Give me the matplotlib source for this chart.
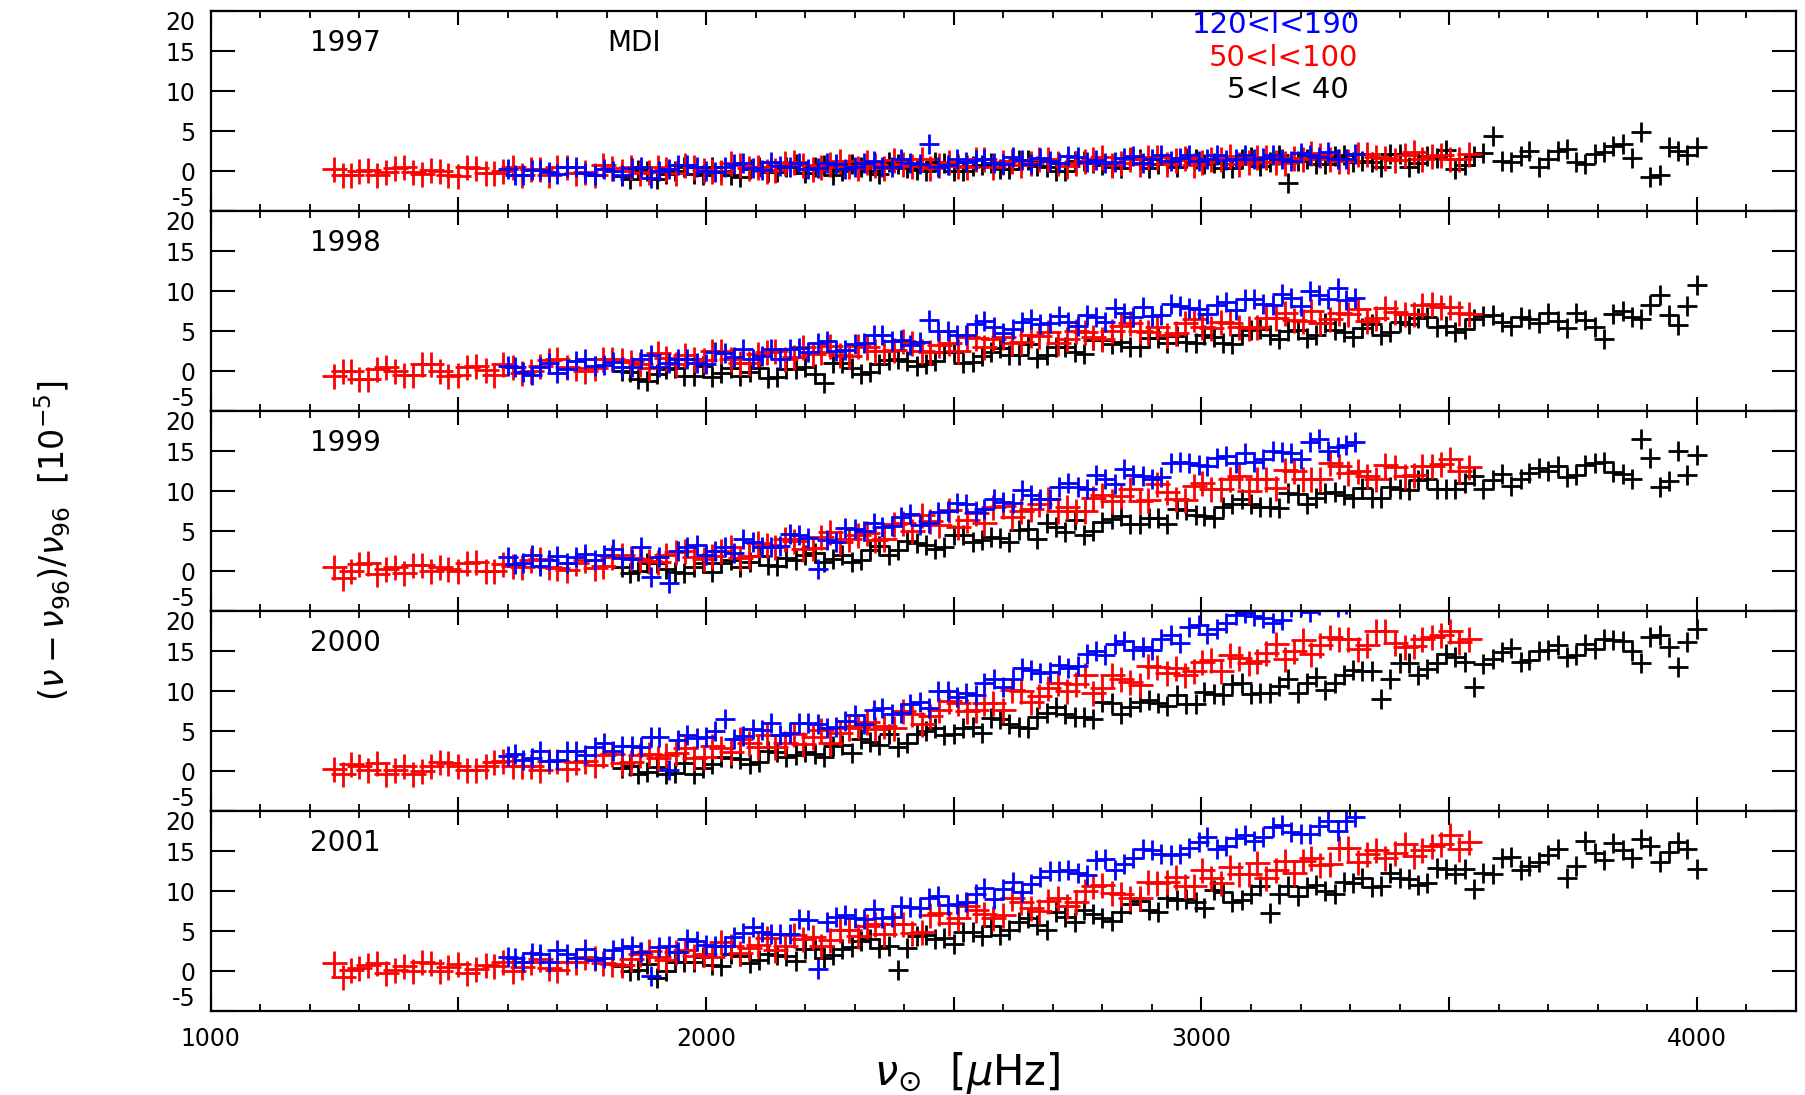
import matplotlib
matplotlib.use('Agg')
import matplotlib.pyplot as plt
from matplotlib.ticker import MultipleLocator, FuncFormatter

plt.rcParams['font.family'] = ['DejaVu Sans']
plt.rcParams['axes.unicode_minus'] = False

years = [1997, 1998, 1999, 2000, 2001]
range_labels = ['120<l<190', '50<l<100', '5<l< 40']

# ---- 50<l<100 (red) ----
nu_red = [1250, 1268, 1300, 1335, 1372, 1408, 1445, 1480, 1518, 1555,
          1590, 1628, 1665, 1700, 1738, 1775, 1810, 1848, 1885, 1920,
          1958, 1995, 2030, 2068, 2105, 2140, 2178, 2215, 2250, 2288,
          2325, 2360, 2398, 2435, 2470, 2508, 2545, 2580, 2618, 2655,
          2690, 2728, 2765, 2800, 2838, 2875, 2910, 2948, 2985, 3020,
          3058, 3095, 3130, 3168, 3205, 3240, 3278, 3315, 3352, 3390,
          3428, 3465, 3502, 3540]
red_1997 = [0.3, -0.5, 0.1, -0.4, 0.4, -0.1, 0.2, -0.4, 0.5, -0.2,
            0.1, -0.5, 0.3, 0.6, -0.2, -0.5, 0.4, 0.6, -0.1, 0.3,
            0.8, 0.2, -0.1, 0.8, 0.6, 0.2, 1.2, 0.3, 0.9, 0.7,
            1.2, 0.4, 0.9, 1.5, 0.8, 0.7, 1.6, 0.6, 1.3, 1.0,
            1.5, 0.7, 1.3, 1.8, 1.0, 0.9, 1.8, 1.4, 0.8, 1.6,
            1.9, 1.2, 1.8, 1.1, 1.6, 2.0, 1.3, 2.2, 1.8, 1.4,
            2.4, 1.9, 1.6, 2.2]
red_1998 = [-0.6, 0.1, -1.0, 0.3, 0.1, -0.5, 0.9, -0.6, 0.5, 0.2,
            0.9, -0.2, 0.7, 1.5, 0.4, 0.4, 1.6, 1.2, 0.4, 1.7,
            2.0, 1.4, 2.5, 1.1, 2.2, 2.6, 1.8, 2.2, 3.2, 1.9,
            3.0, 2.6, 3.8, 2.5, 3.3, 2.5, 4.2, 4.0, 3.6, 4.6,
            4.9, 4.1, 4.9, 4.1, 5.7, 5.1, 5.6, 4.8, 6.5, 5.4,
            6.0, 5.4, 6.7, 7.3, 6.3, 6.0, 7.3, 7.8, 6.7, 7.4,
            7.2, 8.4, 8.0, 7.2]
red_1999 = [0.6, -0.8, 0.9, -0.3, 0.5, 0.8, 0.0, 0.3, 1.1, 0.0,
            0.9, 0.6, 1.6, 0.4, 1.1, 0.4, 1.8, 1.7, 1.3, 2.1,
            2.5, 1.5, 2.5, 1.7, 3.6, 3.0, 3.8, 2.9, 4.9, 4.0,
            4.8, 4.1, 6.1, 7.0, 5.8, 5.5, 7.3, 8.1, 6.8, 7.8,
            9.0, 8.1, 7.5, 9.5, 9.4, 8.8, 10.9, 9.1, 10.7, 10.3,
            11.5, 10.1, 11.5, 12.7, 11.5, 11.5, 13.2, 12.5, 11.5, 13.1,
            12.1, 13.2, 14.0, 13.0]
red_2000 = [0.3, -0.4, 0.7, 1.0, 0.1, -0.3, 0.7, 1.0, 0.1, 0.6,
            1.3, 0.6, 0.1, 1.3, 1.1, 0.8, 2.2, 1.1, 2.2, 2.0,
            2.9, 1.8, 2.9, 4.0, 3.0, 3.1, 4.7, 4.3, 3.6, 5.4,
            6.2, 5.7, 7.5, 5.9, 7.7, 8.6, 7.7, 8.6, 10.2, 8.7,
            10.4, 10.1, 12.0, 10.4, 11.6, 10.8, 13.0, 12.9, 12.5, 13.9,
            14.5, 13.6, 14.8, 14.0, 16.4, 15.8, 16.6, 15.3, 17.5, 16.0,
            15.7, 16.8, 17.5, 16.5]
red_2001 = [1.0, -0.7, 0.4, 1.0, 0.1, 0.0, 1.0, 0.5, -0.2, 0.8,
            1.1, 0.5, 1.5, 0.2, 1.1, 1.6, 0.9, 1.5, 2.5, 1.4,
            2.6, 2.2, 3.6, 2.3, 3.3, 2.6, 4.5, 4.3, 3.9, 5.2,
            5.7, 4.7, 5.9, 4.9, 7.3, 6.6, 7.6, 6.6, 9.1, 7.9,
            8.8, 8.1, 10.0, 10.8, 9.6, 9.2, 11.0, 11.8, 10.6, 11.6,
            13.0, 12.2, 11.7, 13.8, 13.8, 13.3, 15.4, 13.6, 15.2, 14.8,
            14.4, 15.7, 17.0, 16.2]

nu_red_b = [1284, 1318, 1354, 1390, 1426, 1462, 1500, 1536, 1572, 1610,
            1646, 1682, 1720, 1756, 1792, 1830, 1866, 1902, 1940, 1976,
            2012, 2050, 2086, 2122, 2160, 2196, 2232, 2270, 2306, 2342,
            2380, 2416, 2452, 2490, 2526, 2562, 2600, 2636, 2672, 2710,
            2746, 2782, 2820, 2856, 2892, 2930, 2966, 3002, 3040, 3076,
            3112, 3150, 3186, 3222, 3260, 3296, 3334, 3370, 3410, 3446,
            3484, 3520]
red_1997_b = [-0.4, 0.2, -0.1, 0.5, -0.3, 0.1, -0.6, 0.4, -0.2, 0.5,
              0.3, -0.4, 0.5, -0.1, 0.8, 0.1, -0.2, 0.6, -0.2, 0.5,
              0.1, 1.0, 0.4, 0.1, 1.0, 0.8, 0.5, 1.3, 0.4, 0.8,
              1.4, 0.7, 0.4, 1.2, 0.6, 1.6, 1.2, 0.8, 1.5, 1.1,
              1.1, 1.6, 0.8, 1.5, 1.8, 0.9, 1.7, 1.2, 1.6, 0.9,
              1.8, 1.2, 1.7, 2.3, 1.5, 1.3, 2.2, 1.7, 2.1, 1.6,
              2.1, 1.6]
red_1998_b = [0.0, -1.0, 0.5, -0.4, 0.9, 0.0, -0.4, 0.7, -0.4, 0.6,
              0.1, 1.4, 0.6, 0.1, 1.5, 1.4, 0.9, 2.3, 0.9, 1.6,
              2.5, 1.6, 1.1, 2.4, 1.6, 3.1, 2.4, 2.0, 3.2, 2.6,
              2.7, 3.5, 2.4, 3.5, 4.3, 3.0, 4.3, 3.7, 4.4, 3.6,
              5.1, 4.3, 5.1, 6.0, 4.9, 4.6, 6.1, 5.5, 6.2, 5.6,
              5.6, 6.7, 6.4, 7.6, 6.5, 7.2, 6.3, 7.9, 7.2, 8.3,
              8.0, 7.3]
red_1999_b = [0.0, 1.0, 0.3, -0.2, 0.8, 0.6, 0.1, 1.2, 0.1, 0.7,
              1.4, 0.6, 0.2, 1.4, 0.7, 2.1, 1.6, 1.2, 2.4, 1.8,
              1.9, 3.0, 1.9, 3.3, 4.1, 2.8, 4.3, 3.7, 4.6, 3.9,
              5.9, 5.0, 6.3, 7.7, 6.4, 6.1, 8.2, 7.5, 8.4, 7.6,
              7.6, 9.2, 8.8, 10.3, 8.9, 9.9, 8.9, 11.0, 10.3, 11.9,
              11.6, 10.4, 12.6, 11.6, 13.5, 12.3, 11.9, 13.3, 11.9, 13.2,
              13.4, 12.6]
red_2000_b = [0.9, 0.1, -0.3, 0.7, 0.0, 1.1, 0.6, 0.2, 1.1, 0.6,
              0.6, 1.3, 0.3, 1.3, 2.0, 1.0, 2.1, 1.7, 2.3, 1.7,
              3.2, 2.4, 3.5, 4.6, 3.6, 3.4, 5.2, 4.8, 5.7, 5.3,
              5.4, 7.2, 6.9, 8.8, 7.5, 8.6, 7.7, 10.0, 9.4, 11.1,
              10.9, 9.8, 12.1, 11.2, 13.2, 12.3, 12.0, 13.7, 12.6, 14.2,
              13.8, 15.9, 15.1, 14.7, 16.8, 16.5, 15.8, 17.5, 15.6, 16.5,
              17.0, 16.2]
red_2001_b = [0.2, 0.8, -0.2, 0.6, 1.1, 0.0, 0.9, 0.3, 0.7, 0.0,
              1.2, 0.4, 1.1, 1.8, 1.0, 0.8, 2.2, 1.8, 2.4, 1.9,
              1.8, 3.2, 2.9, 4.2, 3.1, 4.0, 3.2, 5.1, 4.4, 5.9,
              5.9, 4.8, 7.0, 6.0, 8.1, 7.2, 7.0, 8.7, 7.5, 9.1,
              8.7, 10.7, 9.8, 9.2, 11.2, 11.2, 10.7, 12.6, 11.0, 12.2,
              13.5, 12.6, 12.3, 14.2, 13.4, 15.4, 14.7, 14.2, 15.9, 15.1,
              15.9, 15.3]

# ---- 120<l<190 (blue) ----
nu_blue = [1600, 1630, 1665, 1700, 1738, 1775, 1812, 1850, 1888, 1925,
           1962, 2000, 2038, 2075, 2112, 2150, 2188, 2225, 2262, 2300,
           2338, 2375, 2412, 2450, 2488, 2525, 2562, 2600, 2638, 2675,
           2712, 2750, 2788, 2825, 2862, 2900, 2938, 2975, 3012, 3050,
           3088, 3125, 3162, 3200, 3238, 3275, 3310]
blue_1997 = [0.3, -0.4, 0.2, -0.3, 0.5, -0.5, 0.1, 0.4, -0.8, 0.3,
             0.8, 0.0, 0.6, 1.0, 0.2, 0.7, 1.1, 0.4, 0.9, 0.5,
             1.3, 0.6, 1.0, 3.4, 0.8, 1.2, 1.5, 0.9, 1.4, 1.7,
             1.1, 1.8, 1.4, 1.2, 1.9, 1.5, 1.3, 2.0, 1.6, 1.4,
             2.1, 1.7, 1.5, 2.3, 1.8, 1.6, 2.2]
blue_1998 = [0.7, -0.1, 0.6, -0.2, 1.3, 0.7, 1.2, 0.5, 2.0, 1.1,
             1.6, 0.9, 2.3, 2.8, 1.9, 1.5, 2.9, 3.5, 2.6, 3.4,
             4.5, 3.8, 3.3, 6.4, 5.0, 4.6, 6.3, 4.8, 6.2, 5.9,
             6.9, 5.7, 6.8, 7.9, 6.8, 6.9, 8.4, 7.9, 7.2, 8.7,
             9.0, 8.4, 9.7, 8.2, 9.5, 10.4, 9.2]
blue_1999 = [1.8, 1.1, 0.7, 1.9, 1.8, 1.4, 2.8, 1.5, -0.7, -1.5,
             3.1, 2.0, 3.1, 4.0, 3.1, 3.2, 4.6, 0.3, 3.7, 5.3,
             6.0, 5.7, 7.2, 6.0, 7.6, 8.4, 7.8, 8.7, 10.2, 9.0,
             10.6, 10.5, 12.1, 10.9, 12.1, 11.5, 13.5, 13.5, 13.2, 14.4,
             14.8, 14.0, 14.9, 14.1, 16.5, 15.5, 16.2]
blue_2000 = [1.9, 1.4, 2.5, 1.4, 2.5, 3.1, 2.5, 3.2, 4.3, 0.1,
             4.5, 4.3, 6.6, 4.4, 5.2, 4.5, 6.1, 5.9, 5.6, 7.0,
             7.7, 7.2, 8.4, 7.9, 10.1, 9.8, 11.0, 10.5, 12.9, 12.3,
             13.3, 13.2, 15.0, 15.9, 15.2, 15.2, 17.0, 18.0, 17.2, 18.5,
             19.8, 19.2, 18.9, 20.7, 20.8, 20.5, 22.3]
blue_2001 = [1.8, 1.1, 2.2, 2.6, 1.7, 1.4, 2.6, 3.2, -0.6, 3.1,
             4.0, 3.3, 3.1, 4.8, 4.9, 4.7, 6.5, 0.3, 6.8, 6.7,
             7.8, 6.8, 8.0, 9.2, 8.3, 8.6, 10.4, 10.3, 9.9, 11.8,
             12.5, 12.3, 13.9, 12.7, 14.2, 15.1, 14.5, 15.4, 16.8, 15.6,
             17.0, 16.8, 18.3, 17.1, 18.1, 17.5, 19.3]

nu_blue_b = [1615, 1648, 1682, 1719, 1756, 1794, 1831, 1869, 1906, 1944,
             1981, 2019, 2056, 2094, 2131, 2169, 2206, 2244, 2281, 2319,
             2356, 2394, 2431, 2469, 2506, 2544, 2581, 2619, 2656, 2694,
             2731, 2769, 2806, 2844, 2881, 2919, 2956, 2994, 3031, 3069,
             3106, 3144, 3181, 3219, 3256, 3292]
blue_1997_b = [-0.4, 0.2, -0.1, 0.6, -0.2, 0.3, -0.4, 0.6, 0.1, 0.8,
               0.6, -0.1, 0.9, 0.4, 1.2, 0.6, 0.3, 1.1, 0.3, 1.0,
               0.6, 1.5, 0.9, 0.6, 1.5, 1.4, 1.0, 1.8, 0.9, 1.3,
               1.9, 1.2, 1.0, 1.7, 1.1, 2.0, 1.7, 1.3, 2.0, 1.6,
               1.6, 2.1, 1.3, 2.0, 2.4, 1.5]
blue_1998_b = [0.5, -0.4, 1.0, 0.3, 1.5, 0.8, 0.5, 1.5, 0.6, 1.6,
               1.1, 2.4, 1.8, 1.5, 2.8, 2.8, 2.4, 3.8, 2.7, 3.5,
               4.5, 3.9, 3.7, 5.0, 4.5, 5.9, 5.5, 5.3, 6.5, 6.0,
               6.2, 7.1, 6.2, 7.3, 8.1, 7.0, 8.2, 7.8, 8.3, 7.7,
               9.0, 8.3, 9.2, 10.0, 9.1, 8.9]
blue_1999_b = [0.9, 2.1, 1.4, 1.0, 2.2, 2.1, 1.7, 3.0, 1.8, 2.5,
               3.3, 2.6, 2.3, 3.7, 3.1, 4.7, 4.2, 3.9, 5.4, 5.1,
               5.5, 6.8, 5.8, 7.4, 8.5, 7.4, 9.0, 8.6, 9.6, 9.0,
               11.0, 10.3, 11.5, 12.8, 11.9, 11.8, 13.7, 13.3, 14.2, 13.6,
               13.7, 15.1, 14.8, 16.2, 15.0, 15.8]
blue_2000_b = [2.2, 1.6, 1.3, 2.5, 2.0, 3.5, 3.2, 3.0, 4.3, 3.9,
               4.2, 5.1, 4.1, 5.3, 6.0, 4.8, 6.0, 5.4, 6.3, 5.9,
               7.9, 7.3, 8.7, 10.1, 9.3, 9.5, 11.6, 11.5, 12.7, 12.4,
               12.9, 14.7, 14.6, 16.3, 15.5, 16.6, 16.1, 18.3, 17.8, 19.5,
               19.4, 18.6, 20.6, 19.9, 21.7, 20.9]
blue_2001_b = [1.6, 2.3, 1.2, 2.2, 2.8, 1.7, 2.9, 2.4, 3.0, 2.4,
               3.8, 3.2, 4.3, 5.5, 4.7, 4.7, 6.4, 6.1, 7.0, 6.5,
               6.7, 8.1, 7.9, 9.4, 8.4, 9.6, 9.0, 11.2, 10.9, 12.5,
               12.6, 12.0, 14.0, 13.4, 15.3, 14.7, 14.6, 16.2, 15.3, 16.7,
               16.3, 18.0, 17.4, 17.1, 18.8, 18.8]

# ---- 5<l<40 (black) ----
nu_black = [1830, 1862, 1900, 1938, 1975, 2012, 2050, 2088, 2125, 2162,
            2200, 2238, 2275, 2312, 2350, 2388, 2425, 2462, 2500, 2538,
            2575, 2612, 2650, 2688, 2725, 2762, 2800, 2838, 2875, 2912,
            2950, 2988, 3025, 3062, 3100, 3138, 3175, 3212, 3250, 3288,
            3325, 3362, 3400, 3438, 3475, 3512, 3550, 3588, 3625, 3662,
            3700, 3738, 3775, 3812, 3850, 3888, 3925, 3962, 4000]
black_1997 = [-0.6, 0.2, -0.9, 0.1, -0.3, 0.5, -0.5, 0.3, -0.1, 0.6,
              -0.2, 0.8, 0.1, 0.5, -0.3, 0.9, 0.2, 1.2, 0.0, 0.7,
              1.1, 0.3, 1.4, 0.6, 0.1, 1.3, 0.8, 0.4, 1.5, 0.9,
              0.6, 1.6, 1.0, 0.4, 1.8, 1.2, -1.4, 1.5, 0.9, 2.0,
              1.3, 0.6, 2.2, 1.0, 1.7, 0.3, 1.9, 4.4, 1.2, 2.5,
              1.6, 2.8, 0.9, 2.4, 3.4, 4.9, -0.5, 2.6, 3.0]
black_1998 = [0.1, -1.0, -0.3, 0.4, -0.6, -0.7, 0.4, -0.1, -0.8, 0.3,
              0.6, -1.5, 1.1, -0.3, 0.9, 1.5, 0.7, 1.3, 2.4, 1.2,
              2.4, 2.0, 3.4, 2.1, 3.0, 2.2, 3.9, 3.7, 3.1, 4.2,
              4.4, 3.5, 4.3, 3.4, 5.2, 4.5, 5.1, 4.2, 6.0, 4.9,
              5.4, 4.6, 6.2, 6.7, 5.5, 4.9, 6.5, 7.0, 5.7, 6.5,
              7.3, 5.4, 6.4, 4.0, 7.6, 6.5, 9.6, 5.8, 10.8]
black_1999 = [0.5, 0.1, 1.1, -0.1, 0.6, -0.1, 1.4, 1.2, 0.8, 1.7,
              2.0, 1.2, 2.1, 1.4, 3.2, 2.7, 3.5, 2.8, 4.6, 3.7,
              4.3, 3.7, 5.3, 6.0, 4.9, 4.6, 6.2, 6.9, 5.9, 6.7,
              7.8, 7.1, 6.7, 8.4, 8.4, 8.0, 9.8, 8.4, 9.8, 9.5,
              10.4, 9.2, 10.3, 11.4, 10.3, 10.3, 11.9, 11.4, 10.7, 12.3,
              12.6, 11.8, 13.3, 13.7, 12.2, 16.6, 10.6, 15.1, 14.6]
black_2000 = [0.4, -0.3, 0.5, -0.2, -0.4, 0.9, 1.6, 0.9, 2.6, 1.8,
              2.4, 1.8, 3.3, 4.1, 3.3, 3.1, 4.7, 5.4, 4.7, 5.5,
              6.7, 5.9, 5.4, 7.3, 7.2, 6.8, 8.7, 7.2, 8.7, 8.5,
              9.6, 8.4, 9.7, 10.9, 9.7, 9.8, 11.5, 11.0, 10.2, 12.0,
              12.5, 9.0, 13.6, 12.0, 13.6, 14.3, 10.6, 14.1, 15.4, 13.9,
              15.2, 14.3, 15.9, 16.6, 16.3, 13.5, 17.0, 13.0, 17.8]
black_2001 = [0.7, 0.1, -0.9, 1.1, 1.1, 0.8, 2.2, 1.0, 2.1, 1.9,
              2.8, 1.7, 2.8, 3.8, 2.9, 0.1, 4.4, 4.0, 3.4, 4.9,
              5.6, 5.1, 6.7, 5.2, 6.8, 7.6, 6.7, 7.4, 8.8, 7.4,
              8.9, 8.6, 10.2, 8.6, 9.6, 7.3, 10.7, 10.5, 10.0, 11.2,
              11.6, 10.7, 11.7, 10.8, 12.9, 12.2, 10.3, 12.1, 14.3, 13.2,
              14.5, 11.6, 16.3, 13.9, 15.2, 16.5, 13.6, 16.2, 12.8]

nu_black_b = [1846, 1881, 1919, 1956, 1994, 2031, 2069, 2106, 2144, 2181,
              2219, 2256, 2294, 2331, 2369, 2406, 2444, 2481, 2519, 2556,
              2594, 2631, 2669, 2706, 2744, 2781, 2819, 2856, 2894, 2931,
              2969, 3006, 3044, 3081, 3119, 3156, 3194, 3231, 3269, 3306,
              3344, 3381, 3419, 3456, 3494, 3531, 3569, 3606, 3644, 3681,
              3719, 3756, 3794, 3831, 3869, 3906, 3944, 3981]
black_1997_b = [-0.9, 0.1, -0.3, 0.6, -0.4, 0.1, -0.7, 0.6, -0.1, 0.9,
                0.5, -0.4, 0.9, 0.1, 1.2, 0.4, 0.1, 1.0, 0.0, 0.8,
                0.3, 1.4, 0.7, 0.1, 1.3, 1.1, 0.6, 1.7, 0.4, 1.0,
                1.7, 0.9, 0.4, 1.5, 0.7, 2.0, 1.3, 0.9, 1.9, 1.2,
                1.2, 2.2, 0.5, 1.9, 2.7, 0.8, 2.3, 1.3, 1.9, 0.6,
                2.5, 1.2, 2.2, 3.2, 1.7, -0.7, 3.0, 2.1]
black_1998_b = [-0.1, -1.2, 0.3, -0.6, 0.7, -0.2, -0.6, 0.4, -0.7, 0.3,
                -0.3, 1.0, 0.4, -0.1, 1.4, 1.3, 0.9, 2.4, 1.1, 1.9,
                2.9, 2.1, 1.7, 3.1, 2.4, 3.9, 3.4, 3.0, 4.2, 3.5,
                3.7, 4.6, 3.5, 4.6, 5.3, 4.0, 5.2, 4.6, 5.2, 4.3,
                5.9, 4.9, 5.9, 6.8, 5.7, 5.3, 6.9, 6.2, 6.8, 6.0,
                6.3, 7.3, 5.5, 7.2, 6.8, 8.3, 7.0, 8.2]
black_1999_b = [-0.2, 1.0, 0.3, -0.2, 1.1, 1.0, 0.6, 1.9, 0.7, 1.4,
                2.3, 1.5, 1.2, 2.7, 2.1, 3.8, 3.3, 3.1, 4.5, 3.9,
                4.2, 5.2, 4.1, 5.5, 6.4, 5.0, 6.5, 5.9, 6.7, 5.9,
                7.7, 6.9, 8.0, 9.1, 8.1, 7.9, 9.7, 9.2, 9.9, 9.2,
                9.2, 10.5, 10.2, 11.5, 10.3, 11.1, 10.3, 12.2, 11.5, 12.9,
                13.2, 12.0, 13.6, 12.4, 11.6, 14.2, 11.3, 12.0]
black_2000_b = [0.6, -0.1, -0.3, 1.0, 0.4, 1.8, 1.5, 1.2, 2.4, 2.0,
                2.2, 3.2, 2.3, 3.7, 4.7, 3.6, 5.1, 4.6, 5.4, 4.8,
                6.5, 5.6, 6.8, 8.0, 6.8, 6.6, 8.6, 8.0, 8.9, 8.2,
                8.4, 9.9, 9.5, 11.0, 9.8, 10.7, 9.8, 11.8, 11.1, 12.7,
                12.5, 11.5, 13.6, 12.8, 14.7, 13.7, 13.4, 14.9, 13.7, 15.1,
                15.8, 14.6, 15.3, 16.4, 15.0, 16.8, 15.6, 16.2]
black_2001_b = [0.0, 0.9, 0.0, 1.1, 1.8, 0.7, 1.9, 1.4, 2.0, 1.3,
                2.8, 2.0, 3.0, 4.0, 3.1, 2.9, 4.5, 4.1, 4.9, 4.4,
                4.5, 6.1, 5.8, 7.4, 6.2, 7.2, 6.3, 8.4, 7.7, 9.2,
                9.0, 7.9, 9.9, 8.9, 10.7, 9.7, 9.4, 10.8, 9.7, 11.0,
                10.5, 12.3, 11.5, 11.0, 12.8, 12.8, 12.3, 14.2, 12.6, 13.7,
                15.3, 13.2, 14.8, 16.0, 14.1, 15.6, 14.9, 15.3]

red = [red_1997, red_1998, red_1999, red_2000, red_2001]
red_b = [red_1997_b, red_1998_b, red_1999_b, red_2000_b, red_2001_b]
blue = [blue_1997, blue_1998, blue_1999, blue_2000, blue_2001]
blue_b = [blue_1997_b, blue_1998_b, blue_1999_b, blue_2000_b, blue_2001_b]
black = [black_1997, black_1998, black_1999, black_2000, black_2001]
black_b = [black_1997_b, black_1998_b, black_1999_b, black_2000_b, black_2001_b]

fig = plt.figure(figsize=(18.05, 10.95), dpi=100)

left, width = 0.1167, 0.8783
top, height = 0.9895, 0.1826
fs_tick = 17
fs = 20
mk = dict(marker='+', linestyle='none', markeredgewidth=2.0)

for i, yr in enumerate(years):
    ax = fig.add_axes([left, top - (i + 1) * height, width, height])
    ax.plot(nu_black + nu_black_b, black[i] + black_b[i], color='black',
            markersize=14, **mk)
    ax.plot(nu_red + nu_red_b, red[i] + red_b[i], color='red',
            markersize=18, **mk)
    ax.plot(nu_blue + nu_blue_b, blue[i] + blue_b[i], color='blue',
            markersize=15, **mk)

    ax.set_xlim(1000, 4200)
    ax.set_ylim(-5, 20)
    ax.set_yticks([-5, 0, 5, 10, 15, 20])
    ax.xaxis.set_major_locator(MultipleLocator(500))
    ax.xaxis.set_minor_locator(MultipleLocator(100))
    ax.xaxis.set_major_formatter(
        FuncFormatter(lambda v, p: '%d' % v if v % 1000 == 0 else ''))
    ax.tick_params(axis='x', which='major', direction='in', length=10,
                   width=1.5, top=True, bottom=True, labelsize=fs_tick,
                   pad=11, labelbottom=(i == len(years) - 1))
    ax.tick_params(axis='x', which='minor', direction='in', length=5,
                   width=1.3, top=True, bottom=True)
    ax.tick_params(axis='y', which='major', direction='in', length=17,
                   width=1.5, left=True, right=True, labelsize=fs_tick,
                   pad=11)
    for s in ax.spines.values():
        s.set_linewidth(1.6)

    # edge labels kept inside their own panel
    yt = ax.yaxis.get_major_ticks()
    yt[-1].label1.set_verticalalignment('top')
    yt[0].label1.set_verticalalignment('bottom')

    ax.text(1200, 16, str(yr), fontsize=fs, va='center', ha='left')
    if i == 0:
        ax.text(1800, 16, 'MDI', fontsize=fs, va='center', ha='left')
        ax.text(3150, 18.3, range_labels[0], color='blue', fontsize=fs + 1,
                va='center', ha='center')
        ax.text(3165, 14.2, range_labels[1], color='red', fontsize=fs + 1,
                va='center', ha='center')
        ax.text(3175, 10.2, range_labels[2], color='black', fontsize=fs + 1,
                va='center', ha='center')

fig.text(0.029, 0.506, r'$(\nu - \nu_{96})/\nu_{96}\ \ [10^{-5}]$',
         rotation=90, fontsize=24, ha='center', va='center')
fig.text(0.536, 0.02, r'$\nu_{\odot}\ \ [\mu\mathrm{Hz}]$',
         fontsize=30, ha='center', va='center')

fig.savefig('out.png', dpi=100)
